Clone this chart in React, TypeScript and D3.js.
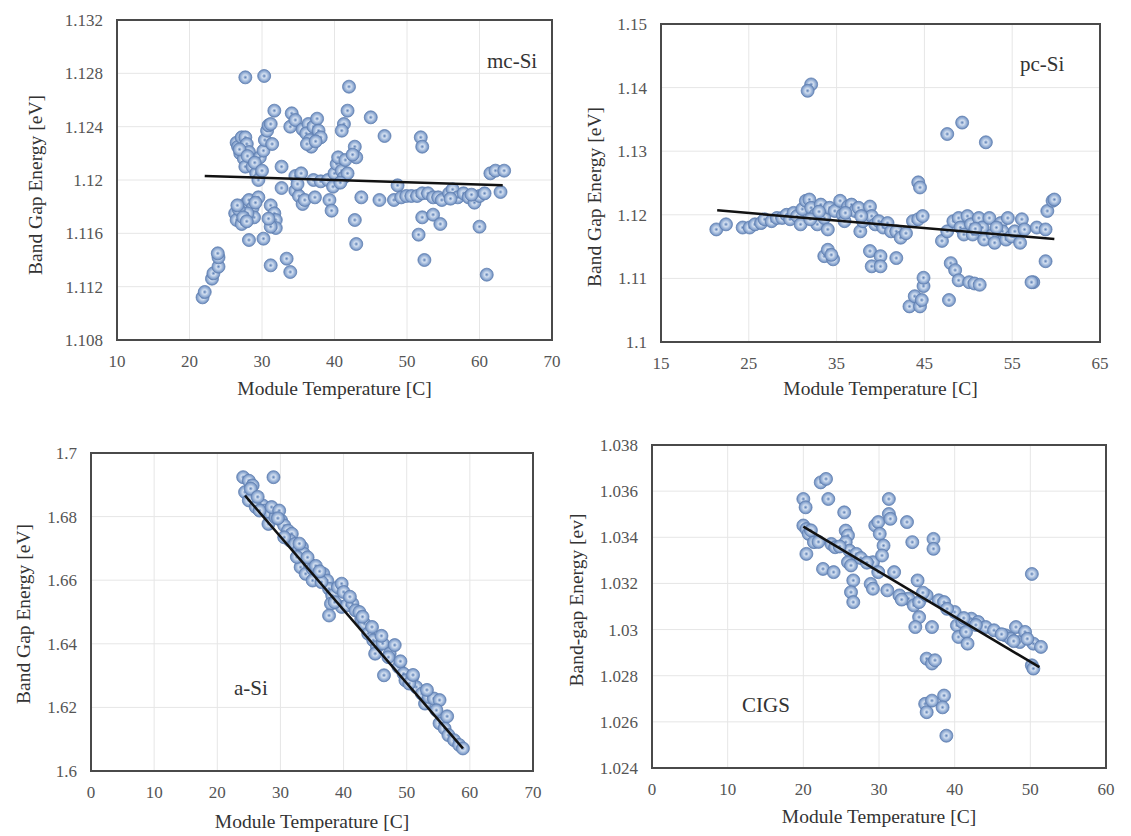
import React from "react";
import * as d3 from "d3";

// ---------- DATA ----------
const mcSiPoints: [number, number][] = [
  [21.8, 1.1112], [22.1, 1.1116], [23.1, 1.1126], [23.3, 1.113], [24.0, 1.1135], [24.0, 1.1142], [23.9, 1.1145],
  [26.5, 1.1228], [26.7, 1.1225], [27.2, 1.1232], [27.7, 1.1232], [27.9, 1.1227], [27.0, 1.122], [27.5, 1.1216],
  [28.2, 1.1221], [28.5, 1.1215], [27.7, 1.121], [28.7, 1.121], [29.2, 1.1205], [29.5, 1.12], [29.7, 1.1217],
  [30.2, 1.1222], [30.4, 1.123], [30.7, 1.1237], [30.9, 1.1241], [31.2, 1.1242], [31.7, 1.1252], [31.4, 1.1227],
  [27.7, 1.1277], [30.3, 1.1278],
  [26.3, 1.1175], [26.5, 1.117], [27.2, 1.1167], [27.7, 1.1182], [28.2, 1.1185], [28.7, 1.1179], [28.9, 1.1172],
  [28.0, 1.1175], [29.5, 1.1187], [28.2, 1.1155], [30.2, 1.1156], [31.2, 1.1181], [31.7, 1.1175], [31.9, 1.117],
  [31.9, 1.1164], [31.2, 1.1165], [31.2, 1.1136], [30.9, 1.1171], [26.8, 1.1178], [27.4, 1.1172],
  [32.7, 1.121], [32.7, 1.1194], [33.4, 1.1141], [33.9, 1.1131],
  [34.1, 1.125], [33.9, 1.124], [34.6, 1.1245], [35.6, 1.1238], [36.4, 1.1242], [36.1, 1.1235], [36.6, 1.123],
  [37.1, 1.124], [37.6, 1.1246], [37.8, 1.1237], [38.1, 1.1232], [36.8, 1.1225],
  [34.6, 1.1203], [35.4, 1.1205], [34.6, 1.1192], [35.1, 1.1188], [35.6, 1.1182], [35.9, 1.1185], [37.1, 1.12],
  [37.3, 1.1187], [38.1, 1.1199], [39.1, 1.12], [39.3, 1.1185], [39.6, 1.1177], [39.8, 1.1195], [40.0, 1.1205],
  [40.3, 1.1212], [40.5, 1.1217], [41.0, 1.1207], [41.3, 1.1202], [41.5, 1.1215], [41.8, 1.1205],
  [41.3, 1.1242], [41.0, 1.1237], [41.8, 1.1252], [42.0, 1.127], [42.8, 1.1225], [43.0, 1.1217], [42.5, 1.1219],
  [42.8, 1.117], [43.0, 1.1152], [43.7, 1.1187], [45.0, 1.1247], [46.2, 1.1185], [46.9, 1.1233],
  [48.2, 1.1185], [48.7, 1.1196], [49.2, 1.1187], [49.9, 1.1188], [50.6, 1.1188], [51.4, 1.1188], [52.1, 1.119],
  [52.9, 1.119], [53.6, 1.1187], [54.3, 1.1187], [54.8, 1.1185], [55.8, 1.119], [56.3, 1.1193], [57.0, 1.1187],
  [57.8, 1.119], [58.5, 1.1187], [59.3, 1.1183], [60.0, 1.1188], [60.7, 1.119], [61.5, 1.1205], [62.2, 1.1207],
  [62.9, 1.1191], [63.4, 1.1207],
  [51.9, 1.1232], [52.1, 1.1225], [51.6, 1.1159], [52.1, 1.1172], [52.4, 1.114], [53.6, 1.1174], [54.6, 1.1167],
  [60.0, 1.1165], [61.0, 1.1129],
  [26.9, 1.1223], [28.0, 1.1218], [29.0, 1.1213], [30.0, 1.1207], [26.6, 1.1181], [27.9, 1.1169], [29.1, 1.1183],
  [36.2, 1.1227], [37.4, 1.1229], [34.9, 1.1197], [40.8, 1.1198], [56.0, 1.1186], [58.9, 1.1189],
];
const mcSiTrendT = [22.1, 63.2];
const mcSiTrendE = [1.1203, 1.1196];
const mcSiTempTicks = [10, 20, 30, 40, 50, 60, 70];
const mcSiGapTicks = [1.108, 1.112, 1.116, 1.12, 1.124, 1.128, 1.132];

const pcSiPoints: [number, number][] = [
  [21.3, 1.1177], [22.4, 1.1185], [24.3, 1.118], [25.1, 1.118], [25.7, 1.1185], [26.4, 1.1187], [26.8, 1.1193],
  [27.6, 1.119], [28.2, 1.1195], [28.8, 1.1195], [29.3, 1.12], [29.7, 1.1193], [30.1, 1.1203], [30.5, 1.1198],
  [30.9, 1.1185], [31.1, 1.1209], [31.5, 1.1222], [31.9, 1.1224], [32.1, 1.1211], [32.6, 1.12], [32.8, 1.1185],
  [33.2, 1.1216], [33.6, 1.1195], [34.0, 1.1177], [34.2, 1.1211], [34.8, 1.1206], [35.4, 1.1222], [35.7, 1.12],
  [35.9, 1.119], [36.3, 1.1213], [36.7, 1.1216], [37.1, 1.1206], [37.5, 1.1211], [37.7, 1.1174], [38.0, 1.119],
  [38.8, 1.1213], [39.0, 1.1198], [39.4, 1.1185], [39.8, 1.119], [40.3, 1.118], [40.8, 1.1187], [41.2, 1.1174],
  [41.8, 1.1174], [42.3, 1.1164], [42.9, 1.1171], [43.7, 1.119], [44.3, 1.1193], [44.8, 1.1198],
  [32.1, 1.1405], [31.7, 1.1395],
  [33.6, 1.1135], [34.0, 1.1145], [34.6, 1.113], [34.4, 1.1137],
  [38.8, 1.1143], [39.0, 1.1119], [40.0, 1.1135], [40.0, 1.1119], [41.8, 1.1132],
  [44.3, 1.1251], [44.5, 1.1243],
  [43.3, 1.1056], [43.9, 1.1072], [44.5, 1.1056], [44.7, 1.1066], [44.9, 1.1088], [44.9, 1.1101],
  [47.0, 1.1159], [47.6, 1.1174], [47.8, 1.1066], [47.6, 1.1327], [49.3, 1.1345], [52.0, 1.1314],
  [48.0, 1.1124], [48.5, 1.1113], [48.9, 1.1097], [50.1, 1.1094], [50.7, 1.1092], [51.3, 1.109],
  [48.3, 1.119], [48.9, 1.1195], [49.1, 1.118], [49.5, 1.1169], [49.9, 1.1198], [50.3, 1.1185], [50.5, 1.1169],
  [51.2, 1.1195], [51.6, 1.118], [51.8, 1.1161], [52.4, 1.1195], [52.8, 1.1169], [53.0, 1.1156], [53.7, 1.1187],
  [53.9, 1.1174], [54.3, 1.1161], [54.5, 1.1195], [54.9, 1.1166], [55.3, 1.1174], [55.9, 1.1156], [56.1, 1.1193],
  [56.4, 1.1177], [57.8, 1.118], [58.8, 1.1177], [57.4, 1.1094], [57.2, 1.1094], [58.8, 1.1127], [59.0, 1.1206],
  [59.6, 1.1222], [59.8, 1.1224],
  [32.0, 1.1193], [33.0, 1.1205], [36.0, 1.1203], [37.8, 1.1198], [53.2, 1.118], [50.8, 1.1178],
];
const pcSiTrendT = [21.4, 59.8];
const pcSiTrendE = [1.1207, 1.1162];
const pcSiTempTicks = [15, 25, 35, 45, 55, 65];
const pcSiGapTicks = [1.1, 1.11, 1.12, 1.13, 1.14, 1.15];

const aSiPoints: [number, number][] = [
  [24.1, 1.6924], [25.0, 1.6913], [25.6, 1.6898], [24.4, 1.6877], [25.0, 1.6851], [28.9, 1.6924], [27.2, 1.6835],
  [27.5, 1.6819], [28.4, 1.6809], [28.1, 1.6777], [29.2, 1.6798], [30.1, 1.6788], [30.6, 1.6772], [31.2, 1.6756],
  [31.8, 1.6746], [31.5, 1.6725], [32.3, 1.6714], [32.9, 1.6694], [33.4, 1.6704], [33.7, 1.6683], [33.2, 1.6641],
  [34.0, 1.662], [34.6, 1.6652], [35.1, 1.6636], [36.0, 1.6615], [36.8, 1.662], [37.4, 1.6599], [37.7, 1.6573],
  [38.2, 1.6552], [38.0, 1.6526], [37.7, 1.6489], [39.1, 1.6578], [39.7, 1.6589], [40.0, 1.6563], [39.7, 1.6516],
  [40.5, 1.6521], [41.4, 1.6526], [41.9, 1.6505], [42.8, 1.6479], [43.3, 1.6463], [43.9, 1.6432], [44.7, 1.6411],
  [45.3, 1.639], [45.0, 1.6369], [46.2, 1.6401], [47.3, 1.6369], [48.1, 1.6396], [46.4, 1.6301], [48.7, 1.6327],
  [49.5, 1.6306], [49.8, 1.6285], [50.9, 1.6296], [51.5, 1.6264], [52.4, 1.6243], [52.9, 1.6212], [53.5, 1.6233],
  [54.3, 1.6228], [55.2, 1.6223], [54.7, 1.6191], [55.2, 1.615], [56.0, 1.6134], [56.6, 1.6113], [57.5, 1.6097],
  [58.3, 1.6082], [58.9, 1.6071],
  [26.1, 1.683], [26.7, 1.6819], [28.6, 1.683], [29.8, 1.6819], [30.6, 1.6735], [32.6, 1.6673], [35.1, 1.6599],
  [36.5, 1.6594], [38.6, 1.6531], [42.5, 1.65], [44.5, 1.6453], [47.1, 1.6358], [50.4, 1.6275],
  [25.3, 1.6888], [26.4, 1.6862], [29.6, 1.6795], [33.0, 1.6715], [34.3, 1.6672], [35.6, 1.6645], [36.2, 1.6628],
  [41.0, 1.6548], [43.0, 1.6485], [46.0, 1.6425], [49.0, 1.6345], [51.0, 1.6302], [53.2, 1.6255], [56.4, 1.6172],
];
const aSiTrendT = [24.4, 58.9];
const aSiTrendE = [1.6866, 1.6071];
const aSiTempTicks = [0, 10, 20, 30, 40, 50, 60, 70];
const aSiGapTicks = [1.6, 1.62, 1.64, 1.66, 1.68, 1.7];

const cigsPoints: [number, number][] = [
  [20.0, 1.03566], [20.3, 1.0353], [20.0, 1.03451], [20.4, 1.03436], [20.7, 1.03415], [20.4, 1.03328], [21.4, 1.03379],
  [22.3, 1.03638], [23.0, 1.03653], [23.3, 1.03566], [22.6, 1.03263], [24.0, 1.03249], [23.7, 1.03371], [24.2, 1.03357],
  [25.4, 1.03508], [25.6, 1.03429], [25.9, 1.03408], [25.6, 1.03379], [26.1, 1.03342], [25.9, 1.03292], [26.3, 1.03278],
  [26.6, 1.03213], [26.3, 1.03162], [26.6, 1.03119], [27.0, 1.03328], [28.9, 1.03198], [29.2, 1.03177], [29.2, 1.03292],
  [29.5, 1.03451], [29.9, 1.03466], [30.1, 1.03415], [30.6, 1.03364], [30.4, 1.03321], [29.9, 1.03249], [31.3, 1.03566],
  [31.3, 1.03501], [31.5, 1.0348], [31.1, 1.0317], [32.0, 1.03249], [32.7, 1.03148], [33.7, 1.03466], [34.4, 1.03379],
  [33.9, 1.03134], [34.6, 1.03105], [35.1, 1.03213], [35.3, 1.03119], [35.3, 1.03054], [34.8, 1.03011], [36.3, 1.03148],
  [37.2, 1.03393], [37.2, 1.0335], [37.0, 1.03011], [36.3, 1.02874], [37.0, 1.02853], [37.4, 1.02867], [36.1, 1.02678],
  [36.3, 1.02642], [37.0, 1.02692], [38.6, 1.02714], [38.4, 1.02663], [38.9, 1.0254], [37.9, 1.03127], [38.6, 1.03119],
  [40.0, 1.03076], [40.3, 1.03018], [40.5, 1.02968], [41.0, 1.03033], [41.5, 1.0299], [41.7, 1.02939], [42.2, 1.03047],
  [43.1, 1.03033], [44.1, 1.03011], [45.2, 1.02997], [46.7, 1.02975], [47.4, 1.02961], [48.1, 1.03011], [48.6, 1.02946],
  [49.3, 1.0299], [50.2, 1.03241], [50.2, 1.02845], [50.4, 1.02831], [50.4, 1.02939], [51.4, 1.02925],
  [21.0, 1.0343], [22.0, 1.0338], [24.8, 1.0336], [27.6, 1.0331], [28.4, 1.0329], [33.0, 1.0313], [35.8, 1.0316],
  [39.0, 1.0309], [41.2, 1.0305], [42.8, 1.0302], [46.2, 1.0298], [47.8, 1.0295], [49.6, 1.0296],
];
const cigsTrendT = [20.0, 51.2];
const cigsTrendE = [1.03446, 1.02837];
const cigsTempTicks = [0, 10, 20, 30, 40, 50, 60];
const cigsGapTicks = [1.024, 1.026, 1.028, 1.03, 1.032, 1.034, 1.036, 1.038];

// ---------- LAYOUT ----------
type Panel = {
  id: string;
  points: [number, number][];
  trendT: number[];
  trendE: number[];
  xTicks: number[];
  yTicks: number[];
  box: [number, number, number, number]; // left, top, right, bottom
  yTitle: string;
  yTitlePos: [number, number];
  xTitleY: number;
  label: string;
  labelPos: [number, number];
};

const panels: Panel[] = [
  {
    id: "mc", points: mcSiPoints, trendT: mcSiTrendT, trendE: mcSiTrendE,
    xTicks: mcSiTempTicks, yTicks: mcSiGapTicks, box: [117, 20, 552, 340],
    yTitle: "Band Gap Energy [eV]", yTitlePos: [42, 185], xTitleY: 395,
    label: "mc-Si", labelPos: [487, 68],
  },
  {
    id: "pc", points: pcSiPoints, trendT: pcSiTrendT, trendE: pcSiTrendE,
    xTicks: pcSiTempTicks, yTicks: pcSiGapTicks, box: [661, 24, 1100, 342],
    yTitle: "Band Gap Energy [eV]", yTitlePos: [601, 197], xTitleY: 395,
    label: "pc-Si", labelPos: [1020, 71],
  },
  {
    id: "a", points: aSiPoints, trendT: aSiTrendT, trendE: aSiTrendE,
    xTicks: aSiTempTicks, yTicks: aSiGapTicks, box: [91, 453, 533, 771],
    yTitle: "Band Gap Energy [eV]", yTitlePos: [30, 614], xTitleY: 828,
    label: "a-Si", labelPos: [234, 695],
  },
  {
    id: "cigs", points: cigsPoints, trendT: cigsTrendT, trendE: cigsTrendE,
    xTicks: cigsTempTicks, yTicks: cigsGapTicks, box: [652, 445, 1106, 768],
    yTitle: "Band-gap Energy [ev]", yTitlePos: [583, 600], xTitleY: 823,
    label: "CIGS", labelPos: [742, 712],
  },
];

const FONT = "Liberation Serif, DejaVu Serif, Times New Roman, serif";
const fmt = (v: number) => `${+v.toFixed(4)}`;

function PanelView({ p }: { p: Panel }) {
  const [l, t, r, b] = p.box;
  const x = d3.scaleLinear().domain(d3.extent(p.xTicks) as [number, number]).range([l, r]);
  const y = d3.scaleLinear().domain(d3.extent(p.yTicks) as [number, number]).range([b, t]);
  const line = d3.line<number>().x((_, i) => x(p.trendT[i])).y((d) => y(d));
  const tickStyle = { fontFamily: FONT, fontSize: "17px", fill: "#555" } as React.CSSProperties;
  const titleStyle = { fontFamily: FONT, fontSize: "19.5px", fill: "#333" } as React.CSSProperties;
  return (
    <g>
      <rect x={l} y={t} width={r - l} height={b - t} fill="#ffffff" />
      {p.xTicks.map((v) => (
        <line key={"gx" + v} x1={x(v)} x2={x(v)} y1={t} y2={b} stroke="#e6e6e6" strokeWidth={1} />
      ))}
      {p.yTicks.map((v) => (
        <line key={"gy" + v} x1={l} x2={r} y1={y(v)} y2={y(v)} stroke="#e6e6e6" strokeWidth={1} />
      ))}
      {p.points.map(([tv, ev], i) => (
        <circle key={i} cx={x(tv)} cy={y(ev)} r={6.5} fill="url(#mk)" stroke="#6282b2" strokeWidth={0.8} />
      ))}
      <path d={line(p.trendE) || ""} stroke="#111" strokeWidth={2.5} fill="none" />
      <rect x={l} y={t} width={r - l} height={b - t} fill="none" stroke="#4a4a4a" strokeWidth={2} />
      {p.xTicks.map((v) => (
        <text key={"tx" + v} x={x(v)} y={b + 27} textAnchor="middle" style={tickStyle}>
          {fmt(v)}
        </text>
      ))}
      {p.yTicks.map((v) => (
        <text key={"ty" + v} x={l - 14} y={y(v) + 6} textAnchor="end" style={tickStyle}>
          {fmt(v)}
        </text>
      ))}
      <text x={(l + r) / 2} y={p.xTitleY} textAnchor="middle" style={titleStyle}>
        Module Temperature [C]
      </text>
      <text
        transform={`translate(${p.yTitlePos[0]},${p.yTitlePos[1]}) rotate(-90)`}
        textAnchor="middle" style={titleStyle}
      >
        {p.yTitle}
      </text>
      <text x={p.labelPos[0]} y={p.labelPos[1]} style={{ fontFamily: FONT, fontSize: "21px", fill: "#333" }}>
        {p.label}
      </text>
    </g>
  );
}

export default function App() {
  return (
    <svg
      width={1131}
      height={836}
      style={{ position: "absolute", left: 0, top: 0, display: "block", background: "#fff" }}
    >
      <defs>
        <radialGradient id="mk" cx="50%" cy="50%" r="50%">
          <stop offset="0%" stopColor="#5a7cac" />
          <stop offset="15%" stopColor="#8ea9d2" />
          <stop offset="35%" stopColor="#d2deef" />
          <stop offset="60%" stopColor="#a9bfde" />
          <stop offset="85%" stopColor="#819ecb" />
          <stop offset="100%" stopColor="#6383b3" />
        </radialGradient>
      </defs>
      <rect width={1131} height={836} fill="#fff" />
      {panels.map((p) => (
        <PanelView key={p.id} p={p} />
      ))}
    </svg>
  );
}
